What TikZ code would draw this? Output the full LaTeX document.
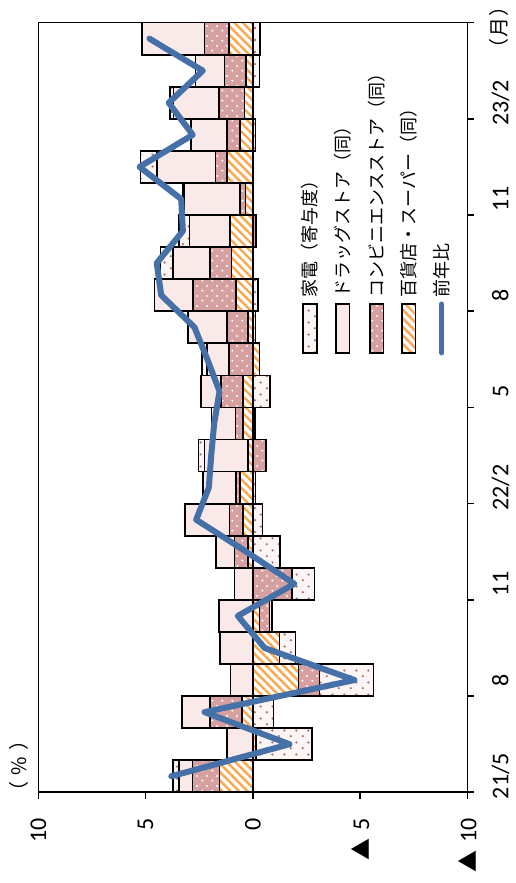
\documentclass[tikz,border=0pt]{standalone}
\usepackage{fontspec}
\setmainfont{Carlito}
\newfontfamily\jpfont{Noto Sans CJK JP}
\usetikzlibrary{patterns.meta}
\definecolor{drugc}{RGB}{249,233,233}
\definecolor{convc}{RGB}{214,160,160}
\definecolor{elecc}{RGB}{252,245,245}
\definecolor{elecdot}{RGB}{160,115,115}
\definecolor{deptc}{RGB}{250,168,80}
\definecolor{linec}{RGB}{70,112,168}
\pgfdeclarepattern{
  name=wdots, type=uncolored,
  bottom left={\pgfpoint{0pt}{0pt}}, top right={\pgfpoint{10pt}{10pt}},
  tile size={\pgfpoint{10pt}{10pt}},
  code={\pgfpathcircle{\pgfpoint{2.5pt}{2.5pt}}{1.2pt}\pgfpathcircle{\pgfpoint{7.5pt}{7.5pt}}{1.2pt}\pgfusepath{fill}}}
\pgfdeclarepattern{
  name=gdots, type=uncolored,
  bottom left={\pgfpoint{0pt}{0pt}}, top right={\pgfpoint{12pt}{12pt}},
  tile size={\pgfpoint{12pt}{12pt}},
  code={\pgfpathcircle{\pgfpoint{3pt}{3pt}}{1.3pt}\pgfpathcircle{\pgfpoint{9pt}{9pt}}{1.3pt}\pgfusepath{fill}}}
\tikzset{
  bx/.style={draw=black, line width=1.7pt},
  dept/.style={preaction={fill=white}, preaction={pattern={Lines[angle=-45,distance=6pt,line width=2.4pt]}, pattern color=deptc}, bx},
  conv/.style={preaction={fill=convc}, preaction={pattern=wdots, pattern color=white}, bx},
  drug/.style={fill=drugc, bx},
  elec/.style={preaction={fill=elecc}, preaction={pattern=gdots, pattern color=elecdot}, bx},
  yoy/.style={draw=linec, line width=6pt, line join=round, line cap=round},
  axisline/.style={draw=black, line width=1.6pt},
  numlab/.style={font=\fontsize{24pt}{26pt}\selectfont, rotate=90, inner sep=0pt},
  jplab/.style={font=\jpfont\fontsize{18pt}{20pt}\selectfont, rotate=90, inner sep=0pt, anchor=west},
  unitlab/.style={font=\jpfont\fontsize{20pt}{22pt}\selectfont, rotate=90, inner sep=0pt, anchor=center},
}
\newcommand\barseg[3]{%
  \pgfmathsetmacro\segv{#2}%
  \ifdim\segv pt<0pt
    \let\sega\accn \pgfmathsetmacro\accn{\accn+\segv}%
  \else
    \let\sega\accp \pgfmathsetmacro\accp{\accp+\segv}%
  \fi
  \ifdim\segv pt=0pt\relax\else
    \path[#3] (\sega,#1) rectangle ({\sega+\segv},{#1+1});
  \fi}
\newcommand\stackbar[5]{\def\accp{0}\def\accn{0}%
  \barseg{#1}{#2}{dept}\barseg{#1}{#3}{conv}\barseg{#1}{#4}{drug}\barseg{#1}{#5}{elec}}
\newcommand\tri{{\jpfont\fontsize{22pt}{24pt}\selectfont ▲}\hspace{8pt}}
\begin{document}
\begin{tikzpicture}[x=1pt,y=1pt]
\useasboundingbox (0,0) rectangle (515,883);
\begin{scope}[x=-21.45pt, y=32.07pt, shift={(252.8pt,90.7pt)}]
% bars: index, dept, conv, drug, elec
\stackbar{0}{1.55}{1.26}{0.64}{0.28}
\stackbar{1}{-0.16}{0}{1.21}{-2.61}
\stackbar{2}{0.49}{1.49}{1.31}{-0.97}
\stackbar{3}{-2.13}{-0.98}{1.04}{-2.52}
\stackbar{4}{-1.24}{0}{1.52}{-0.75}
\stackbar{5}{-0.31}{-0.47}{1.57}{-0.12}
\stackbar{6}{0}{-1.82}{0.85}{-1.06}
\stackbar{7}{0.23}{0.62}{0.85}{-1.27}
\stackbar{8}{0.47}{0.62}{2.07}{-0.45}
\stackbar{9}{0.59}{0.19}{1.55}{-0.12}
\stackbar{10}{0.23}{-0.62}{2.02}{0.28}
\stackbar{11}{0.45}{0.35}{1.13}{-0.10}
\stackbar{12}{0.47}{1.00}{0.96}{-0.81}
\stackbar{13}{-0.31}{1.12}{1.01}{0.23}
\stackbar{14}{0.23}{0.98}{1.82}{-0.12}
\stackbar{15}{0.77}{2.02}{1.79}{-0.23}
\stackbar{16}{1.00}{0.98}{1.74}{0.59}
\stackbar{17}{1.05}{-0.16}{1.90}{0.50}
\stackbar{18}{0.34}{0.25}{2.60}{0.08}
\stackbar{19}{1.21}{0.53}{2.74}{0.76}
\stackbar{20}{0.59}{0.62}{1.66}{-0.12}
\stackbar{21}{0.39}{1.20}{2.11}{0.15}
\stackbar{22}{0.31}{1.01}{1.35}{-0.31}
\stackbar{23}{1.12}{1.13}{2.90}{-0.34}
% year-on-year line
\draw[yoy] plot coordinates {(3.80,0.5) (-1.71,1.5) (2.25,2.5) (-4.74,3.5) (-0.55,4.5) (0.70,5.5) (-1.94,6.5) (0.30,7.5) (2.64,8.5) (2.05,9.5) (1.94,10.5) (1.80,11.5) (1.55,12.5) (2.12,13.5) (2.72,14.5) (4.27,15.5) (4.48,16.5) (3.26,17.5) (3.34,18.5) (5.28,19.5) (2.80,20.5) (3.92,21.5) (2.33,22.5) (4.82,23.5)};
% frame and ticks
\draw[axisline] (10,0) rectangle (-10,24);
\foreach \v in {10,5,0,-5,-10} \draw[axisline] (\v,0) -- ([yshift=-7pt]\v,0);
\foreach \k in {0,3,...,24} \draw[axisline] (-10,\k) -- ([xshift=7pt]-10,\k);
% value labels
\node[numlab, anchor=east] (v10) at ([yshift=-26pt]10,0) {10};
\node[numlab, anchor=east] (v5) at ([yshift=-26pt]5,0) {5};
\node[numlab, anchor=east] (v0) at ([yshift=-26pt]0,0) {0};
\node[numlab, anchor=east] (vm5) at ([yshift=-26pt]-5,0) {\tri5};
\node[numlab, anchor=east] (vm10) at ([yshift=-26pt]-10,0) {\tri10};
% month labels
\node[numlab, anchor=base] (m0) at ([xshift=41pt]-10,0.5) {21/5};
\node[numlab, anchor=base] (m3) at ([xshift=41pt]-10,3.5) {8};
\node[numlab, anchor=base] (m6) at ([xshift=41pt]-10,6.5) {11};
\node[numlab, anchor=base] (m9) at ([xshift=41pt]-10,9.5) {22/2};
\node[numlab, anchor=base] (m12) at ([xshift=41pt]-10,12.5) {5};
\node[numlab, anchor=base] (m15) at ([xshift=41pt]-10,15.5) {8};
\node[numlab, anchor=base] (m18) at ([xshift=41pt]-10,18.5) {11};
\node[numlab, anchor=base] (m21) at ([xshift=41pt]-10,21.5) {23/2};
\end{scope}
% unit labels
\node[unitlab] (pct) at (19,117) {\kern-7pt（\hspace{6pt}\%\hspace{6pt}）\kern-7pt};
\node[unitlab] (mon) at (498.5,855) {\kern-7pt（\hspace{1pt}月\hspace{1pt}）\kern-7pt};
% legend
\path[elec] (303.3,530) rectangle (316.7,579);
\path[drug] (336.2,530) rectangle (349.6,579);
\path[conv] (370.0,530) rectangle (383.4,579);
\path[dept] (402.0,530) rectangle (415.4,579);
\coordinate (lg1) at (441.7,530);
\coordinate (lg2) at (441.7,579);
\draw[yoy, line width=5pt] (lg1) -- (lg2);
\node[jplab] (t1) at (310.0,585) {家電（寄与度）};
\node[jplab] (t2) at (342.9,585) {ドラッグストア（同）};
\node[jplab] (t3) at (376.7,585) {コンビニエンスストア（同）};
\node[jplab] (t4) at (408.7,585) {百貨店・スーパー（同）};
\node[jplab] (t5) at (441.7,585) {前年比};
\end{tikzpicture}
\end{document}
